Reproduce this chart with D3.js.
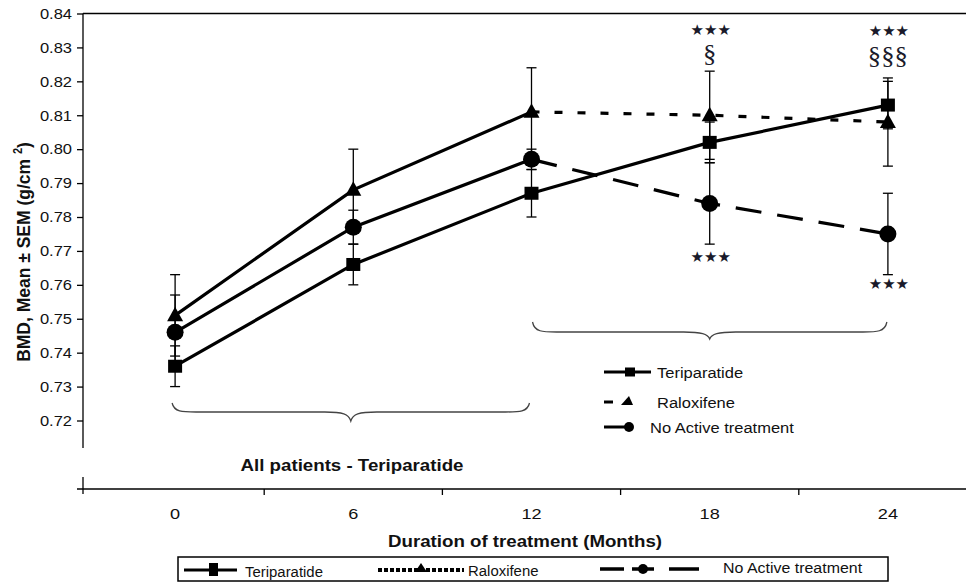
<!DOCTYPE html>
<html>
<head>
<meta charset="utf-8">
<script src="https://cdn.jsdelivr.net/npm/d3@7"></script>
<style>
  html, body { margin: 0; padding: 0; background: #fff; }
  svg { display: block; font-family: "Liberation Sans", Arial, sans-serif; }
</style>
</head>
<body>
<svg id="chart" width="966" height="584"></svg>
<script>
// ---- data ----
const months = ["0", "6", "12", "18", "24"];
const yTicks = [0.72, 0.73, 0.74, 0.75, 0.76, 0.77, 0.78, 0.79, 0.80, 0.81, 0.82, 0.83, 0.84];

const teriparatide    = [0.736, 0.766, 0.787, 0.802, 0.813];
const teriparatideSem = [0.006, 0.006, 0.007, 0.006, 0.007];
const raloxifene      = [0.751, 0.788, 0.811, 0.810, 0.808];
const raloxifeneSem   = [0.012, 0.012, 0.013, 0.013, 0.013];
const noActive        = [0.746, 0.777, 0.797, 0.784, 0.775];
const noActiveSem     = [0.011, 0.005, 0.003, 0.012, 0.012];

const seriesNames = ["Teriparatide", "Raloxifene", "No Active treatment"];

// significance marks
const starsAboveMonths = ["18", "24"];
const sectionMarks     = ["§", "§§§"];
const starsBelowMonths = ["18", "24"];
const starText = "\u2605\u2605\u2605";

// ---- layout ----
const svg = d3.select("#chart");
const SX = 1.1;           // horizontal text stretch
const INK = "#111";
const axisX = 83;

const x = d3.scaleBand().domain(months).range([86, 977]).padding(0);
const cx = m => x(m) + x.bandwidth() / 2;
const y = d3.scaleLinear().domain([0.72, 0.84]).range([420.5, 13.5]);

function label(parent, px, py, str, o = {}) {
  return parent.append("text")
    .attr("transform", `translate(${px},${py}) scale(${o.sx || SX},1)`)
    .attr("font-size", o.size || 15)
    .attr("font-weight", o.weight || "normal")
    .attr("font-family", o.family || null)
    .attr("text-anchor", o.anchor || "start")
    .attr("letter-spacing", o.spacing || null)
    .attr("fill", o.fill || INK)
    .text(str);
}

// ---- frame & axes ----
const axes = svg.append("g").attr("stroke", "#000").attr("stroke-width", 1.3);
axes.append("line").attr("x1", axisX).attr("x2", 966).attr("y1", y(0.84)).attr("y2", y(0.84));
axes.append("line").attr("x1", axisX).attr("x2", axisX).attr("y1", y(0.84)).attr("y2", 448);
axes.append("line").attr("x1", axisX).attr("x2", axisX).attr("y1", 477).attr("y2", 494);
axes.append("line").attr("x1", 77).attr("x2", 966).attr("y1", 489).attr("y2", 489);
months.slice(1).forEach(m => {
  axes.append("line").attr("x1", x(m)).attr("x2", x(m)).attr("y1", 489).attr("y2", 495);
});

const yAxis = svg.append("g")
  .attr("transform", `translate(${axisX},0)`)
  .call(d3.axisLeft(y).tickValues(yTicks).tickSize(6).tickFormat(d3.format(".2f")));
yAxis.select(".domain").remove();
yAxis.selectAll(".tick line").attr("stroke", "#000").attr("stroke-width", 1.3);
yAxis.selectAll(".tick text")
  .attr("font-size", 15)
  .attr("font-family", "Liberation Sans, Arial, sans-serif")
  .attr("fill", INK)
  .attr("x", -11 / SX)
  .attr("transform", `scale(${SX},1)`);

const xAxis = svg.append("g")
  .attr("transform", "translate(0,489)")
  .call(d3.axisBottom(x).tickSize(0).tickPadding(19));
xAxis.select(".domain").remove();
xAxis.selectAll(".tick text")
  .attr("font-size", 15)
  .attr("font-family", "Liberation Sans, Arial, sans-serif")
  .attr("fill", INK)
  .attr("transform", `scale(${SX},1)`)
  .each(function () {
    const t = d3.select(this.parentNode).attr("transform");
    const tx = +t.match(/translate\(([-\d.]+)/)[1];
    d3.select(this.parentNode).attr("transform", `translate(${tx / SX},0)`);
  });
xAxis.attr("transform", `translate(0,489) scale(${SX},1)`);

// axis titles
const yTitle = svg.append("text")
  .attr("transform", `translate(30,252) rotate(-90) scale(1,${SX})`)
  .attr("text-anchor", "middle")
  .attr("font-size", 17.5)
  .attr("font-weight", "bold")
  .attr("fill", INK);
yTitle.append("tspan").text("BMD, Mean \u00B1 SEM (g/cm ");
yTitle.append("tspan").attr("dy", -7).attr("font-size", 11).text("2");
yTitle.append("tspan").attr("dy", 7).text(")");

label(svg, 525, 547, "Duration of treatment (Months)", { size: 17, weight: "bold", anchor: "middle" });
label(svg, 352, 471, "All patients - Teriparatide", { size: 17, weight: "bold", anchor: "middle" });

// ---- braces ----
function bracePath(x1, x2, yEnd, yFlat, yTip) {
  const xm = (x1 + x2) / 2;
  return `M${x1},${yEnd} C${x1 + 2},${yFlat} ${x1 + 10},${yFlat} ${x1 + 24},${yFlat}
          L${xm - 26},${yFlat} C${xm - 8},${yFlat} ${xm - 2},${yFlat + 2} ${xm},${yTip}
          C${xm + 2},${yFlat + 2} ${xm + 8},${yFlat} ${xm + 26},${yFlat}
          L${x2 - 24},${yFlat} C${x2 - 10},${yFlat} ${x2 - 2},${yFlat} ${x2},${yEnd}`;
}
svg.append("path")
  .attr("d", bracePath(cx("0") - 3, cx("12") - 2, 403, 412, 421))
  .attr("fill", "none").attr("stroke", "#444").attr("stroke-width", 1.3);
svg.append("path")
  .attr("d", bracePath(cx("12") + 1, cx("24") - 1, 322, 332, 339))
  .attr("fill", "none").attr("stroke", "#444").attr("stroke-width", 1.3);

// ---- series ----
const series = [
  { name: seriesNames[0], values: teriparatide, sem: teriparatideSem, dash: null,    marker: "square" },
  { name: seriesNames[1], values: raloxifene,   sem: raloxifeneSem,   dash: "8,15",  marker: "triangle" },
  { name: seriesNames[2], values: noActive,     sem: noActiveSem,     dash: "26,16", marker: "circle" }
];

const line = d3.line().x(d => cx(d.m)).y(d => y(d.v));
const pts = s => months.map((m, i) => ({ m, v: s.values[i], e: s.sem[i] }));

const gLines = svg.append("g").attr("fill", "none").attr("stroke", "#000").attr("stroke-width", 3.2);
series.forEach(s => {
  const p = pts(s);
  gLines.append("path").attr("d", line(p.slice(0, 3)));
  gLines.append("path").attr("d", line(p.slice(2))).attr("stroke-dasharray", s.dash);
});

// error bars
const gErr = svg.append("g").attr("stroke", "#000").attr("stroke-width", 1.3);
series.forEach(s => {
  pts(s).forEach(d => {
    const px = cx(d.m);
    gErr.append("line").attr("x1", px).attr("x2", px).attr("y1", y(d.v - d.e)).attr("y2", y(d.v + d.e));
    [d.v - d.e, d.v + d.e].forEach(v => {
      gErr.append("line").attr("x1", px - 5).attr("x2", px + 5).attr("y1", y(v)).attr("y2", y(v));
    });
  });
});

// markers
function drawMarker(g, type, px, py) {
  if (type === "square") {
    g.append("rect").attr("x", px - 7).attr("y", py - 6.5).attr("width", 14).attr("height", 13).attr("fill", "#000");
  } else if (type === "triangle") {
    g.append("path").attr("d", `M${px},${py - 8.5} L${px + 8},${py + 6} L${px - 8},${py + 6}Z`).attr("fill", "#000");
  } else {
    g.append("circle").attr("cx", px).attr("cy", py).attr("r", 8.5).attr("fill", "#000");
  }
}
const gMarks = svg.append("g");
series.forEach(s => pts(s).forEach(d => drawMarker(gMarks, s.marker, cx(d.m), y(d.v))));

// ---- significance marks ----
const starFont = "DejaVu Sans, sans-serif";
const markInk = "#1a1a2a";
starsAboveMonths.forEach((m, i) => {
  label(svg, cx(m) + 1, 35 + i, starText, { size: 15, anchor: "middle", sx: 1, family: starFont, fill: markInk });
  label(svg, cx(m), 62 + 2 * i, sectionMarks[i], { size: 25, anchor: "middle", sx: 1.07, family: "Liberation Serif, Times New Roman, serif", fill: markInk });
});
const belowY = [262, 289];
starsBelowMonths.forEach((m, i) => {
  label(svg, cx(m) + 1, belowY[i], starText, { size: 15, anchor: "middle", sx: 1, family: starFont, fill: markInk });
});

// ---- inner legend ----
const lg = svg.append("g");
const innerRows = [
  { y: 372, textX: 657 },
  { y: 402, textX: 657 },
  { y: 427, textX: 650 }
];
lg.append("line").attr("x1", 604).attr("x2", 651).attr("y1", 372).attr("y2", 372)
  .attr("stroke", "#000").attr("stroke-width", 3);
lg.append("rect").attr("x", 625).attr("y", 367.5).attr("width", 10).attr("height", 9).attr("fill", "#000");
lg.append("line").attr("x1", 604).attr("x2", 613).attr("y1", 402).attr("y2", 402)
  .attr("stroke", "#000").attr("stroke-width", 3);
lg.append("path").attr("d", "M629,396 L633,405 L621,405Z").attr("fill", "#000");
lg.append("line").attr("x1", 604).attr("x2", 628).attr("y1", 427).attr("y2", 427)
  .attr("stroke", "#000").attr("stroke-width", 3);
lg.append("circle").attr("cx", 629).attr("cy", 427).attr("r", 5).attr("fill", "#000");
seriesNames.forEach((n, i) => label(lg, innerRows[i].textX, innerRows[i].y + 5.5, n, { size: 15 }));

// ---- bottom legend ----
const bl = svg.append("g");
bl.append("rect").attr("x", 178).attr("y", 557).attr("width", 710).attr("height", 24)
  .attr("fill", "#fff").attr("stroke", "#000").attr("stroke-width", 1.5);
bl.append("line").attr("x1", 184).attr("x2", 237).attr("y1", 570).attr("y2", 570)
  .attr("stroke", "#000").attr("stroke-width", 3);
bl.append("rect").attr("x", 209).attr("y", 563).attr("width", 9).attr("height", 13).attr("fill", "#000");
bl.append("line").attr("x1", 378).attr("x2", 464).attr("y1", 570).attr("y2", 570)
  .attr("stroke", "#000").attr("stroke-width", 4).attr("stroke-dasharray", "4,2");
bl.append("path").attr("d", "M421,563 L427,572 L415,572Z").attr("fill", "#000");
bl.append("path").attr("d", "M600,569 H624 M632,569 H654 M669,569 H699")
  .attr("stroke", "#000").attr("stroke-width", 3.5).attr("fill", "none");
bl.append("circle").attr("cx", 643).attr("cy", 569).attr("r", 5).attr("fill", "#000");
label(bl, 245, 577, seriesNames[0], { size: 14.5, sx: 1.03 });
label(bl, 468, 576, seriesNames[1], { size: 14.5, sx: 1.03 });
label(bl, 723, 573, seriesNames[2], { size: 14.5, sx: 1.1 });
</script>
</body>
</html>
